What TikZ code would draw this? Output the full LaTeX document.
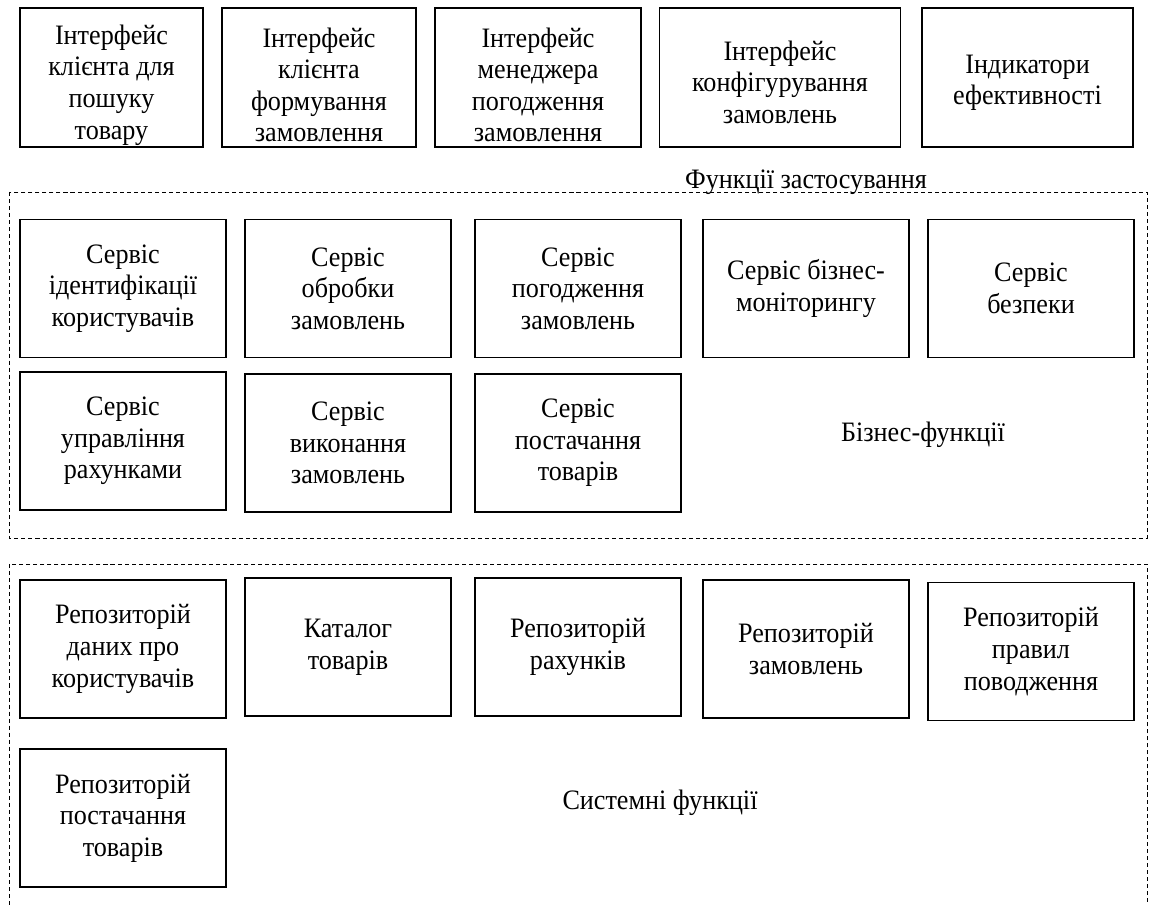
\documentclass[tikz,border=0pt]{standalone}
\usepackage{fontspec}
\setmainfont{Liberation Serif}[FakeStretch=0.93]
\newcommand\opusk[1]{\rule{0pt}{#1}}

\begin{document}
\begin{tikzpicture}[x=0.02cm,y=-0.02cm,
  blok/.style={draw,line width=1pt,align=center,inner sep=0pt,
    minimum width=4.12cm,minimum height=2.76cm,
    font=\fontsize{16}{18}\selectfont},
  napys/.style={inner sep=0pt,font=\fontsize{16}{18}\selectfont},
  ramka/.style={line width=0.5pt,dash pattern=on 2.3pt off 1.7pt}]
\useasboundingbox (0,0) rectangle (1149,905);
\node[blok,minimum width=3.66cm,minimum height=2.78cm] (poshuk) at (111.5,77.5) {\opusk{19.5pt}Інтерфейс\\клієнта для\\пошуку\\товару};
\node[blok,minimum width=3.88cm,minimum height=2.78cm] (formuv) at (319,77.5) {\opusk{19.5pt}Інтерфейс\\клієнта\\формування\\замовлення};
\node[blok,minimum width=4.12cm,minimum height=2.78cm] (menedzh) at (538,77.5) {\opusk{19.5pt}Інтерфейс\\менеджера\\погодження\\замовлення};
\node[blok,minimum width=4.82cm,minimum height=2.78cm] (konfig) at (780,77.5) {\opusk{16.5pt}Інтерфейс\\конфігурування\\замовлень};
\node[blok,minimum width=4.22cm,minimum height=2.78cm] (indyk) at (1027.5,77.5) {\opusk{16.5pt}Індикатори\\ефективності};

\node[napys,anchor=base] (zastos) at (806,189) {Функції застосування};
\draw[ramka] (9,192) rectangle (1147,538);
\node[blok] (ident) at (123,288.5) {Сервіс\\ідентифікації\\користувачів};
\node[blok] (obrob) at (348,288.5) {Сервіс\\обробки\\замовлень};
\node[blok] (pogodzh) at (578,288.5) {Сервіс\\погодження\\замовлень};
\node[blok] (monit) at (806,288.5) {Сервіс бізнес-\\моніторингу};
\node[blok] (bezpek) at (1031,288.5) {Сервіс\\безпеки};
\node[blok] (rakh) at (123,441) {Сервіс\\управління\\рахунками};
\node[blok] (vykon) at (348,443) {Сервіс\\виконання\\замовлень};
\node[blok] (postach) at (578,443) {Сервіс\\постачання\\товарів};
\node[napys] (biznes) at (923,435) {Бізнес-функції};

\draw[ramka] (9,564) rectangle (1147,930);
\node[blok] (rkor) at (123,649) {Репозиторій\\даних про\\користувачів};
\node[blok] (katal) at (348,647) {Каталог\\товарів};
\node[blok] (rrakh) at (578,647) {Репозиторій\\рахунків};
\node[blok] (rzam) at (806,649) {Репозиторій\\замовлень};
\node[blok] (rprav) at (1031,651.5) {Репозиторій\\правил\\поводження};
\node[blok] (rpost) at (123,818) {Репозиторій\\постачання\\товарів};
\node[napys] (system) at (660,803) {Системні функції};
\end{tikzpicture}
\end{document}
